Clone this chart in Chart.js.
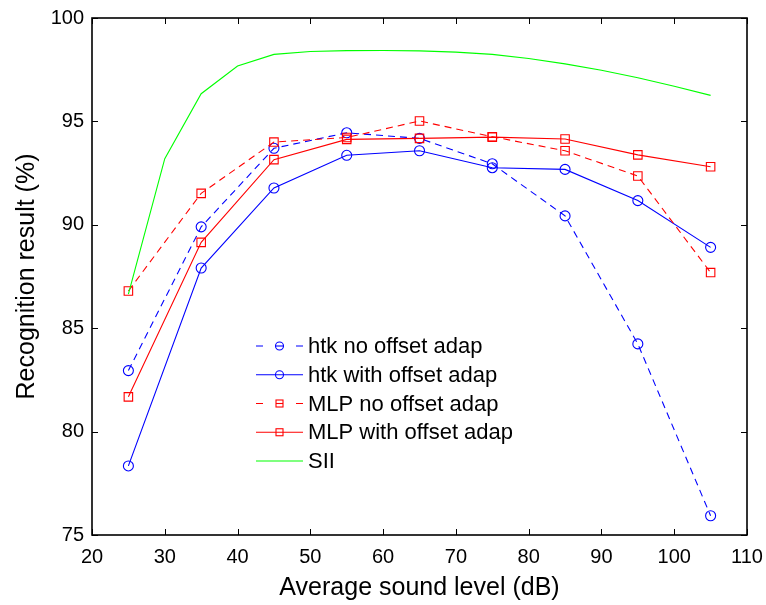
<!DOCTYPE html>
<html>
<head>
<meta charset="utf-8">
<script src="https://cdn.jsdelivr.net/npm/chart.js@4.4.1/dist/chart.umd.min.js"></script>
<style>
  html, body { margin: 0; padding: 0; background: #fff; }
  #wrap { width: 766px; height: 605px; }
</style>
</head>
<body>
<div id="wrap"><canvas id="chart" width="766" height="605"></canvas></div>
<script>
// sound levels (dB) for the recognition runs
const levels = [25, 35, 45, 55, 65, 75, 85, 95, 105];
const htkNoOffset   = [82.95, 89.9, 93.7, 94.45, 94.18, 92.95, 90.43, 84.24, 75.93];
const htkWithOffset = [78.34, 87.91, 91.78, 93.36, 93.58, 92.76, 92.68, 91.17, 88.91];
const mlpNoOffset   = [86.8, 91.52, 94.0, 94.22, 95.02, 94.26, 93.58, 92.36, 87.69];
const mlpWithOffset = [81.68, 89.15, 93.15, 94.13, 94.18, 94.24, 94.15, 93.38, 92.81];

// SII curve, every 5 dB
const siiLevels = [25, 30, 35, 40, 45, 50, 55, 60, 65, 70, 75, 80, 85, 90, 95, 100, 105];
const sii = [86.65, 93.2, 96.34, 97.68, 98.24, 98.38, 98.42, 98.43, 98.41, 98.35, 98.24, 98.04, 97.78, 97.47, 97.11, 96.7, 96.26];

const xTicks = [20, 30, 40, 50, 60, 70, 80, 90, 100, 110];
const yTicks = [75, 80, 85, 90, 95, 100];

const seriesNames = ['htk no offset adap', 'htk with offset adap', 'MLP no offset adap', 'MLP with offset adap', 'SII'];

const FONT = '"Liberation Sans", Arial, Helvetica, sans-serif';
const BLUE = '#0000ff', RED = '#ff0000', GREEN = '#00ff00';
const DASH = [7, 5];

const pts = (xs, ys) => xs.map((x, i) => ({x: x, y: ys[i]}));

function series(label, xs, ys, color, dashed, marker) {
  return {
    label: label,
    data: pts(xs, ys),
    borderColor: color,
    borderWidth: 1.1,
    borderDash: dashed ? DASH : [],
    pointStyle: marker || false,
    pointRadius: marker === 'rect' ? 6 : (marker ? 5 : 0),
    pointBorderColor: color,
    pointBackgroundColor: 'rgba(0,0,0,0)',
    pointBorderWidth: 1.1,
    tension: 0,
    fill: false
  };
}

const datasets = [
  series(seriesNames[0], levels, htkNoOffset, BLUE, true, 'circle'),
  series(seriesNames[1], levels, htkWithOffset, BLUE, false, 'circle'),
  series(seriesNames[2], levels, mlpNoOffset, RED, true, 'rect'),
  series(seriesNames[3], levels, mlpWithOffset, RED, false, 'rect'),
  series(seriesNames[4], siiLevels, sii, GREEN, false, null)
];
// matlab draws later series on top
datasets.forEach((d, i) => d.order = datasets.length - i);

// box + inward ticks, like matlab axes
const axesBox = {
  id: 'axesBox',
  afterDraw(chart) {
    const {ctx, chartArea: a, scales: {x, y}} = chart;
    ctx.save();
    ctx.strokeStyle = '#000';
    ctx.lineWidth = 1;
    const len = 6;
    ctx.beginPath();
    xTicks.forEach(v => {
      const px = Math.round(x.getPixelForValue(v)) + 0.5;
      ctx.moveTo(px, a.bottom); ctx.lineTo(px, a.bottom - len);
      ctx.moveTo(px, a.top); ctx.lineTo(px, a.top + len);
    });
    yTicks.forEach(v => {
      const py = Math.round(y.getPixelForValue(v)) + 0.5;
      ctx.moveTo(a.left, py); ctx.lineTo(a.left + len, py);
      ctx.moveTo(a.right, py); ctx.lineTo(a.right - len, py);
    });
    ctx.stroke();
    ctx.lineWidth = 1.6;
    ctx.strokeRect(a.left, a.top, a.right - a.left, a.bottom - a.top);
    ctx.restore();
  }
};

// legend drawn inside the axes, matlab style (line sample with marker in the middle)
const insideLegend = {
  id: 'insideLegend',
  afterDraw(chart) {
    const ctx = chart.ctx;
    const x0 = 256, x1 = 303, tx = 308, y0 = 346, dy = 28.75;
    ctx.save();
    ctx.font = '22px ' + FONT;
    ctx.textBaseline = 'middle';
    chart.data.datasets.forEach((d, i) => {
      const yy = y0 + i * dy;
      ctx.strokeStyle = d.borderColor;
      ctx.lineWidth = 1.1;
      ctx.beginPath();
      if (d.borderDash.length) {
        ctx.moveTo(x0, yy); ctx.lineTo(x0 + 7, yy);
        ctx.moveTo(x1 - 7, yy); ctx.lineTo(x1, yy);
      } else {
        ctx.moveTo(x0, yy); ctx.lineTo(x1, yy);
      }
      ctx.stroke();
      const cx = (x0 + x1) / 2;
      if (d.pointStyle === 'circle') {
        ctx.beginPath(); ctx.arc(cx, yy, 4, 0, Math.PI * 2); ctx.stroke();
        if (d.borderDash.length) {
          ctx.beginPath(); ctx.moveTo(cx - 4, yy); ctx.lineTo(cx + 4, yy); ctx.stroke();
        }
      } else if (d.pointStyle === 'rect') {
        ctx.strokeRect(cx - 3.5, yy - 3.5, 7, 7);
        if (d.borderDash.length) {
          ctx.beginPath(); ctx.moveTo(cx - 3.5, yy); ctx.lineTo(cx + 3.5, yy); ctx.stroke();
        }
      }
      ctx.fillStyle = '#000';
      ctx.fillText(d.label, tx, yy + 1);
    });
    ctx.restore();
  }
};

new Chart(document.getElementById('chart'), {
  type: 'line',
  data: { datasets: datasets },
  options: {
    responsive: false,
    animation: false,
    layout: { padding: { left: 0, top: 18, right: 19, bottom: 0 } },
    scales: {
      x: {
        type: 'linear',
        min: 20, max: 110,
        afterBuildTicks: s => { s.ticks = xTicks.map(v => ({value: v})); },
        afterFit: s => { s.height = 70; s.paddingLeft = 0; s.paddingRight = 0; },
        grid: { display: false, drawTicks: false },
        border: { display: false },
        ticks: { color: '#000', font: { family: FONT, size: 20 }, padding: 10, maxRotation: 0, autoSkip: false },
        title: { display: true, text: 'Average sound level (dB)', color: '#000', font: { family: FONT, size: 25 }, padding: { top: 0, bottom: 2 } }
      },
      y: {
        min: 75, max: 100,
        afterBuildTicks: s => { s.ticks = yTicks.map(v => ({value: v})); },
        afterFit: s => { s.width = 92; s.paddingTop = 0; s.paddingBottom = 0; },
        grid: { display: false, drawTicks: false },
        border: { display: false },
        ticks: { color: '#000', font: { family: FONT, size: 20 }, padding: 8, autoSkip: false },
        title: { display: true, text: 'Recognition result (%)', color: '#000', font: { family: FONT, size: 25 }, padding: { top: 12, bottom: 0 } }
      }
    },
    plugins: {
      legend: { display: false },
      tooltip: { enabled: false }
    }
  },
  plugins: [axesBox, insideLegend]
});
</script>
</body>
</html>
